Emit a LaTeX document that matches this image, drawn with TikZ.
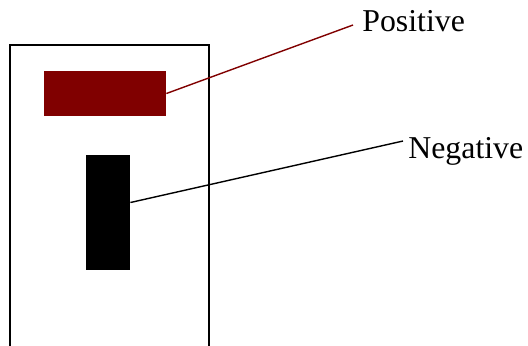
\documentclass[tikz,border=0pt]{standalone}
\usepackage{fontspec}
\setmainfont{Liberation Serif}
\usepackage{xcolor}
\usetikzlibrary{positioning,calc}
\definecolor{posred}{HTML}{800000}

\begin{document}
\begin{tikzpicture}[x=0.5pt,y=-0.5pt,
    housing/.style={draw=black, line width=1pt},
    posbar/.style={fill=posred, draw=none},
    negbar/.style={fill=black, draw=none},
    lbl/.style={font=\fontsize{15.9}{18}\selectfont, inner sep=0pt, anchor=base west},
    leader/.style={line width=0.7pt}
]
\useasboundingbox (0,0) rectangle (528,345);
\draw[housing] (9.5,45) rectangle (209,400);

\node[posbar, minimum width=61pt, minimum height=22.5pt, inner sep=0pt] (pos) at (105,93.5) {};
\node[negbar, minimum width=22pt, minimum height=57.5pt, inner sep=0pt] (neg) at (108,212.5) {};

\node[lbl] (poslabel) at (362,31) {Positive};
\node[lbl] (neglabel) at (408,158) {Negative};
\coordinate (posend) at (353,25);
\coordinate (negend) at (403,141);

\draw[leader, posred] (pos.east) -- (posend);
\draw[leader] ($(neg.east)+(0,-10)$) -- (negend);
\end{tikzpicture}
\end{document}
